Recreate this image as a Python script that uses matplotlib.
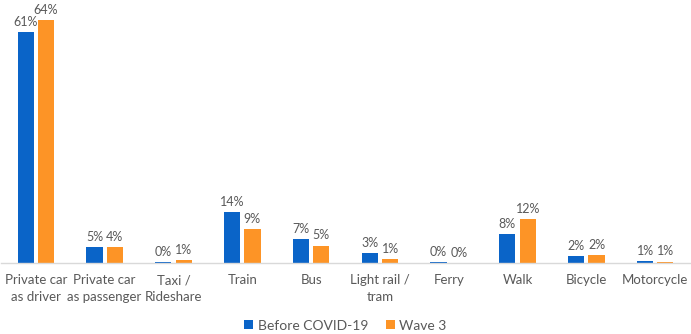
import matplotlib
matplotlib.use("Agg")
import matplotlib.pyplot as plt
import numpy as np

categories = ["Private car\nas driver", "Private car\nas passenger", "Taxi /\nRideshare", "Train", "Bus",
              "Light rail /\ntram", "Ferry", "Walk", "Bicycle", "Motorcycle"]
before = [61.0, 4.3, 0.2, 13.5, 6.2, 2.6, 0.2, 7.7, 1.8, 0.5]
wave3 = [64.1, 4.2, 0.8, 8.9, 4.6, 1.0, 0.05, 11.5, 2.0, 0.35]
before_labels = ["61%", "5%", "0%", "14%", "7%", "3%", "0%", "8%", "2%", "1%"]
wave3_labels = ["64%", "4%", "1%", "9%", "5%", "1%", "0%", "12%", "2%", "1%"]
series_names = ["Before COVID-19", "Wave 3"]

blue = "#0a64c8"
orange = "#fd9426"
txt = "#595959"
font = "Lato"

fig = plt.figure(figsize=(6.91, 3.34), dpi=100)
ax = fig.add_axes([0.002, 0.2126, 0.996, 0.783])
x = np.arange(len(categories))
w = 0.235
gap = 0.03
b1 = ax.bar(x - w / 2 - gap, before, w, color=blue, label=series_names[0])
b2 = ax.bar(x + w / 2 + gap, wave3, w, color=orange, label=series_names[1])
for bars, labs in ((b1, before_labels), (b2, wave3_labels)):
    for r, lab in zip(bars, labs):
        ax.annotate(lab, (r.get_x() + r.get_width() / 2, r.get_height()), xytext=(0, 3),
                    textcoords="offset points", ha="center", va="bottom",
                    fontsize=9, color=txt, family=font)

ax.set_xlim(-0.5, 9.5)
ax.set_ylim(0, 69)
ax.set_yticks([])
ax.set_xticks(x)
ax.set_xticklabels(categories, fontsize=9.5, color=txt, family=font, linespacing=1.45)
ax.tick_params(axis="x", length=0, pad=8)
for s in ("top", "right", "left"):
    ax.spines[s].set_visible(False)
ax.spines["bottom"].set_color("#d9d9d9")
ax.spines["bottom"].set_linewidth(1)

leg = fig.legend(handles=[b1, b2], labels=series_names, loc="center", bbox_to_anchor=(0.5, 0.025),
                 ncol=2, frameon=False, handlelength=0.65, handleheight=0.65,
                 handletextpad=0.3, columnspacing=1.3, prop={"family": font, "size": 10})
for t in leg.get_texts():
    t.set_color(txt)

fig.savefig("out.png", dpi=100)
